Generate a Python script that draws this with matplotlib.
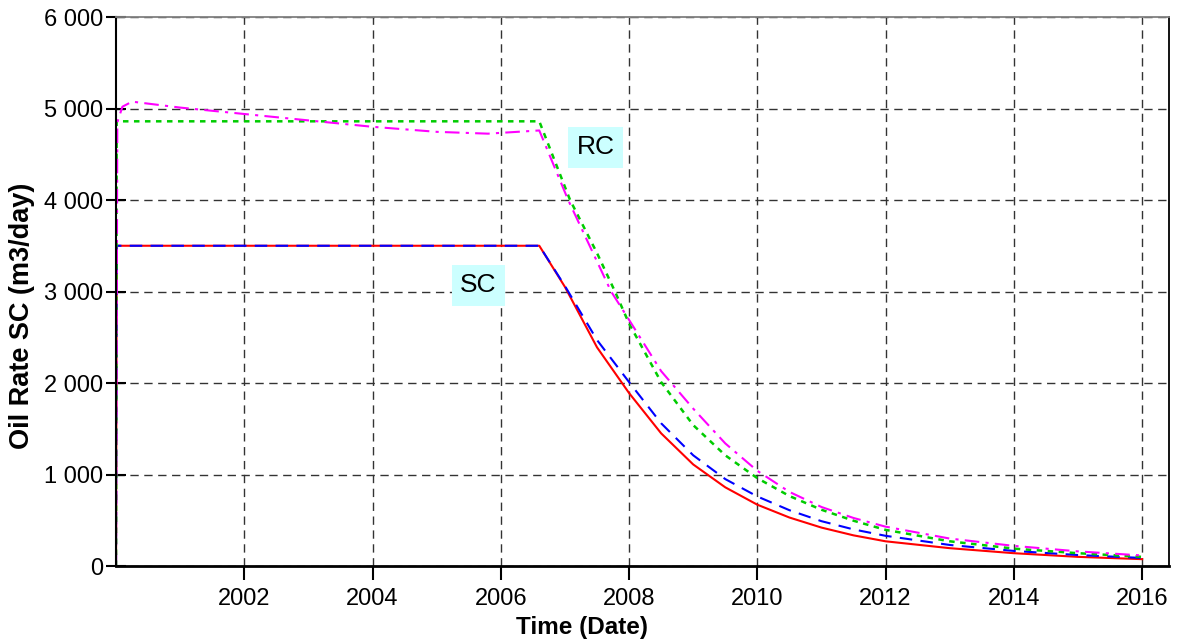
import matplotlib
matplotlib.use("Agg")
import matplotlib.pyplot as plt
from matplotlib.ticker import FuncFormatter, FixedLocator

plt.rcParams['font.family'] = ['Liberation Sans', 'DejaVu Sans']

# decimal years and oil rates (m3/day)
red_t = [2000.0, 2000.01, 2006.6, 2007.0, 2007.5, 2008.0, 2008.5, 2009.0, 2009.5,
         2010.0, 2010.5, 2011.0, 2011.5, 2012.0, 2013.0, 2014.0, 2015.0, 2016.0]
red_q = [0, 3500, 3500, 3050, 2390, 1890, 1450, 1110, 860,
         670, 530, 420, 335, 270, 195, 140, 100, 75]

blue_t = [2000.0, 2000.01, 2006.6, 2007.0, 2007.5, 2008.0, 2008.5, 2009.0, 2009.5,
          2010.0, 2010.5, 2011.0, 2011.5, 2012.0, 2013.0, 2014.0, 2015.0, 2016.0]
blue_q = [0, 3500, 3500, 3060, 2470, 2010, 1560, 1210, 950,
          760, 610, 490, 400, 330, 230, 165, 120, 88]

green_t = [2000.0, 2000.01, 2006.6, 2007.08, 2007.5, 2007.78, 2008.0, 2008.5, 2009.0,
           2009.5, 2010.0, 2010.5, 2011.0, 2011.5, 2012.0, 2013.0, 2014.0, 2015.0, 2016.0]
green_q = [0, 4860, 4860, 4000, 3420, 3000, 2650, 2010, 1540,
           1210, 960, 765, 615, 495, 395, 270, 190, 140, 100]

mag_t = [2000.0, 2000.02, 2000.1, 2000.25, 2001.0, 2002.0, 2003.0, 2004.0, 2005.0,
         2005.8, 2006.6, 2007.05, 2007.72, 2008.0, 2008.5, 2009.0, 2009.5, 2010.0,
         2010.5, 2011.0, 2011.5, 2012.0, 2013.0, 2014.0, 2015.0, 2016.0]
mag_q = [0, 4850, 5020, 5075, 5010, 4940, 4870, 4800, 4745,
         4725, 4760, 4000, 3000, 2690, 2130, 1720, 1340, 1040,
         810, 645, 525, 430, 300, 220, 160, 115]

xticks = [2002, 2004, 2006, 2008, 2010, 2012, 2014, 2016]
yticks = [0, 1000, 2000, 3000, 4000, 5000, 6000]

fig = plt.figure(figsize=(11.78, 6.44), dpi=100)
ax = fig.add_axes([0.0985, 0.1211, 0.8939, 0.8525])

ax.plot(red_t, red_q, color='#ff0000', lw=1.5, ls='-')
ax.plot(blue_t, blue_q, color='#0000ff', lw=1.5, ls=(0, (6, 4)))
ax.plot(green_t, green_q, color='#00cc00', lw=1.8, ls=(0, (2.2, 2.2)))
ax.plot(mag_t, mag_q, color='#ff00ff', lw=1.5, ls=(0, (7, 3, 1.5, 3)))

box = dict(boxstyle='square,pad=0.32', facecolor='#ccffff', edgecolor='none')
ax.text(2007.48, 4574, 'RC', fontsize=19, ha='center', va='center', bbox=box)
ax.text(2005.65, 3070, 'SC', fontsize=19, ha='center', va='center', bbox=box)

ax.set_xlim(2000.0, 2016.42)
ax.set_ylim(0, 6000)
ax.xaxis.set_major_locator(FixedLocator(xticks))
ax.yaxis.set_major_locator(FixedLocator(yticks))
ax.xaxis.set_major_formatter(FuncFormatter(lambda v, p: '%d' % v))
ax.yaxis.set_major_formatter(FuncFormatter(lambda v, p: '{:,}'.format(int(v)).replace(',', ' ')))

ax.grid(True, color='#333333', lw=1.0, ls=(0, (6, 4)))
ax.tick_params(axis='both', labelsize=17, width=1.5, color='black')
ax.tick_params(axis='y', direction='inout', length=14, pad=2)
ax.tick_params(axis='x', direction='out', length=10, pad=6)

ax.spines['left'].set_linewidth(1.5)
ax.spines['bottom'].set_linewidth(2.0)
ax.spines['right'].set_linewidth(1.3)
ax.spines['top'].set_color('#808080')
ax.spines['top'].set_linewidth(1.3)

ax.set_xlabel('Time (Date)', fontsize=17.5, fontweight='bold')
ax.set_ylabel('Oil Rate SC (m3/day)', fontsize=19.5, fontweight='bold')
ax.xaxis.set_label_coords(0.4425, -0.091)
ax.yaxis.set_label_coords(-0.077, 0.455)

fig.savefig('out.png', dpi=100)
